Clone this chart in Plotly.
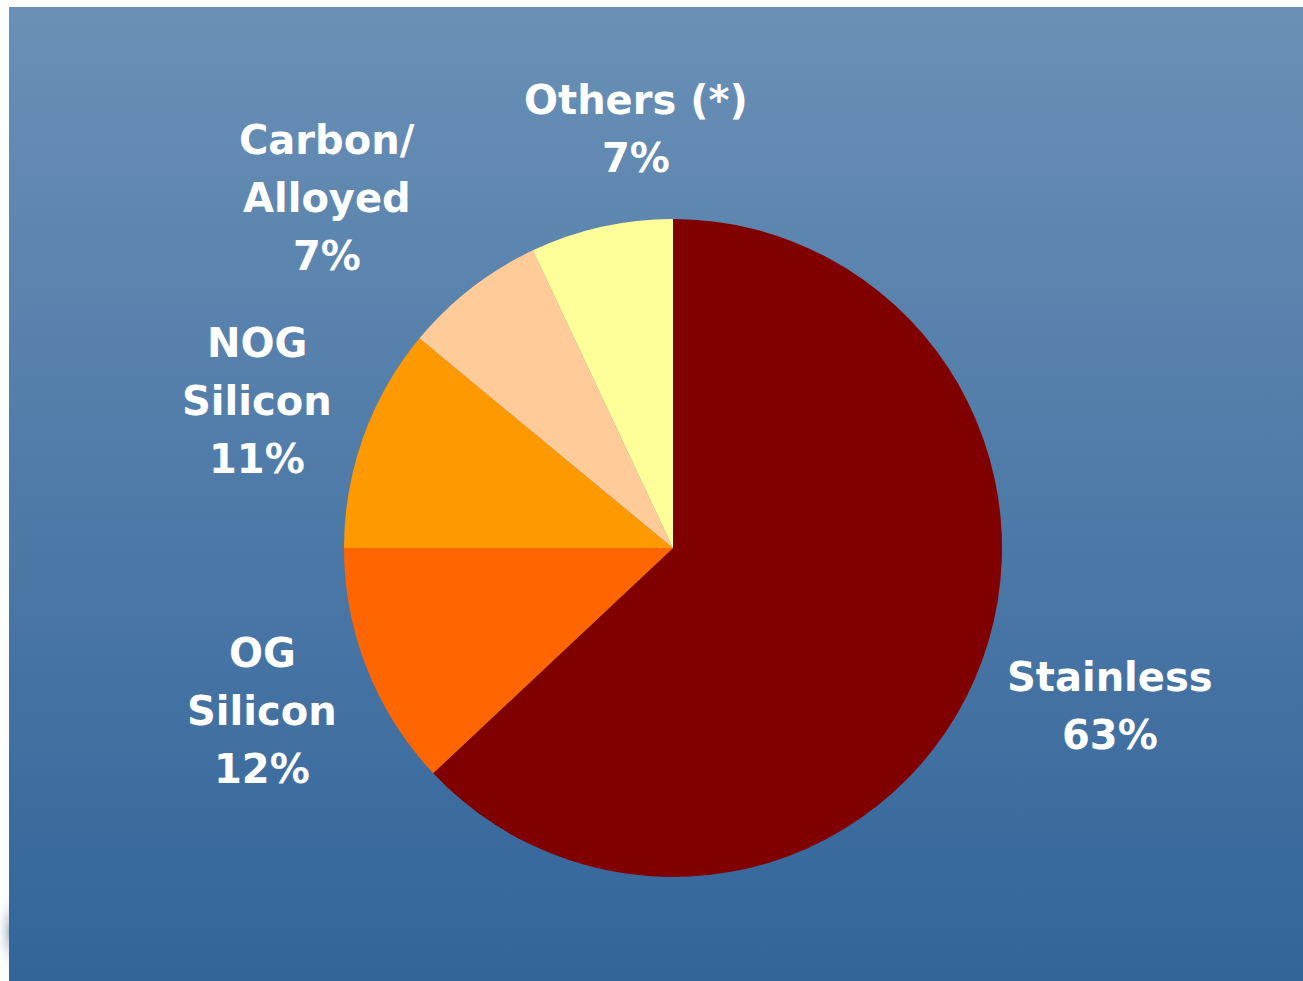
import base64
import plotly.graph_objects as go

# ---- data ----
categories = ["Stainless", "OG Silicon", "NOG Silicon", "Carbon/ Alloyed", "Others (*)"]
shares = [63, 12, 11, 7, 7]
label_lines = [["Stainless", "63%"], ["OG", "Silicon", "12%"], ["NOG", "Silicon", "11%"],
               ["Carbon/", "Alloyed", "7%"], ["Others (*)", "7%"]]
colors = ["#800000", "#FF6600", "#FF9900", "#FFCC99", "#FFFF99"]

W, H = 1303, 981

# background gradient (SVG)
svg = f'''<svg xmlns="http://www.w3.org/2000/svg" width="{W}" height="{H}" viewBox="0 0 {W} {H}">
<defs>
<linearGradient id="g" x1="0" y1="0" x2="0" y2="1">
<stop offset="0" stop-color="#6A90B6"/>
<stop offset="1" stop-color="#33659A"/>
</linearGradient>
<radialGradient id="s" cx="0.5" cy="0.5" r="0.5">
<stop offset="0" stop-color="#9FAEBD" stop-opacity="0.8"/>
<stop offset="1" stop-color="#FFFFFF" stop-opacity="0"/>
</radialGradient>
</defs>
<rect x="0" y="0" width="{W}" height="{H}" fill="#FFFFFF"/>
<ellipse cx="9" cy="932" rx="14" ry="45" fill="url(#s)"/>
<rect x="9" y="7" width="{W-9}" height="{H-7}" fill="url(#g)"/>
</svg>'''
src = "data:image/svg+xml;base64," + base64.b64encode(svg.encode()).decode()

cx, cy, r = 673, 548, 329

fig = go.Figure()
fig.add_trace(go.Pie(
    labels=categories, values=shares, sort=False, direction="clockwise", rotation=0,
    marker=dict(colors=colors, line=dict(width=0)),
    textinfo="none", hoverinfo="label+percent", showlegend=False,
    domain=dict(x=[(cx - r) / W, (cx + r) / W], y=[(H - cy - r) / H, (H - cy + r) / H]),
))

# label positions (centre of first line, in pixels)
label_pos = [(1110, 677), (262, 653), (257, 343), (327, 140), (636, 100)]
line_gap = 58
annotations = []
for lines, (lx, ly) in zip(label_lines, label_pos):
    for i, t in enumerate(lines):
        annotations.append(dict(
            text=t, x=lx / W, y=1 - (ly + i * line_gap) / H, xref="paper", yref="paper",
            showarrow=False, xanchor="center", yanchor="middle",
            font=dict(family="DejaVu Sans", size=40, color="white", weight="bold"),
        ))

fig.update_layout(
    width=W, height=H, margin=dict(l=0, r=0, t=0, b=0),
    paper_bgcolor="white", plot_bgcolor="rgba(0,0,0,0)",
    images=[dict(source=src, xref="paper", yref="paper", x=0, y=1, sizex=1, sizey=1,
                 xanchor="left", yanchor="top", sizing="stretch", layer="below")],
    annotations=annotations,
)
fig.write_html("out.html")
